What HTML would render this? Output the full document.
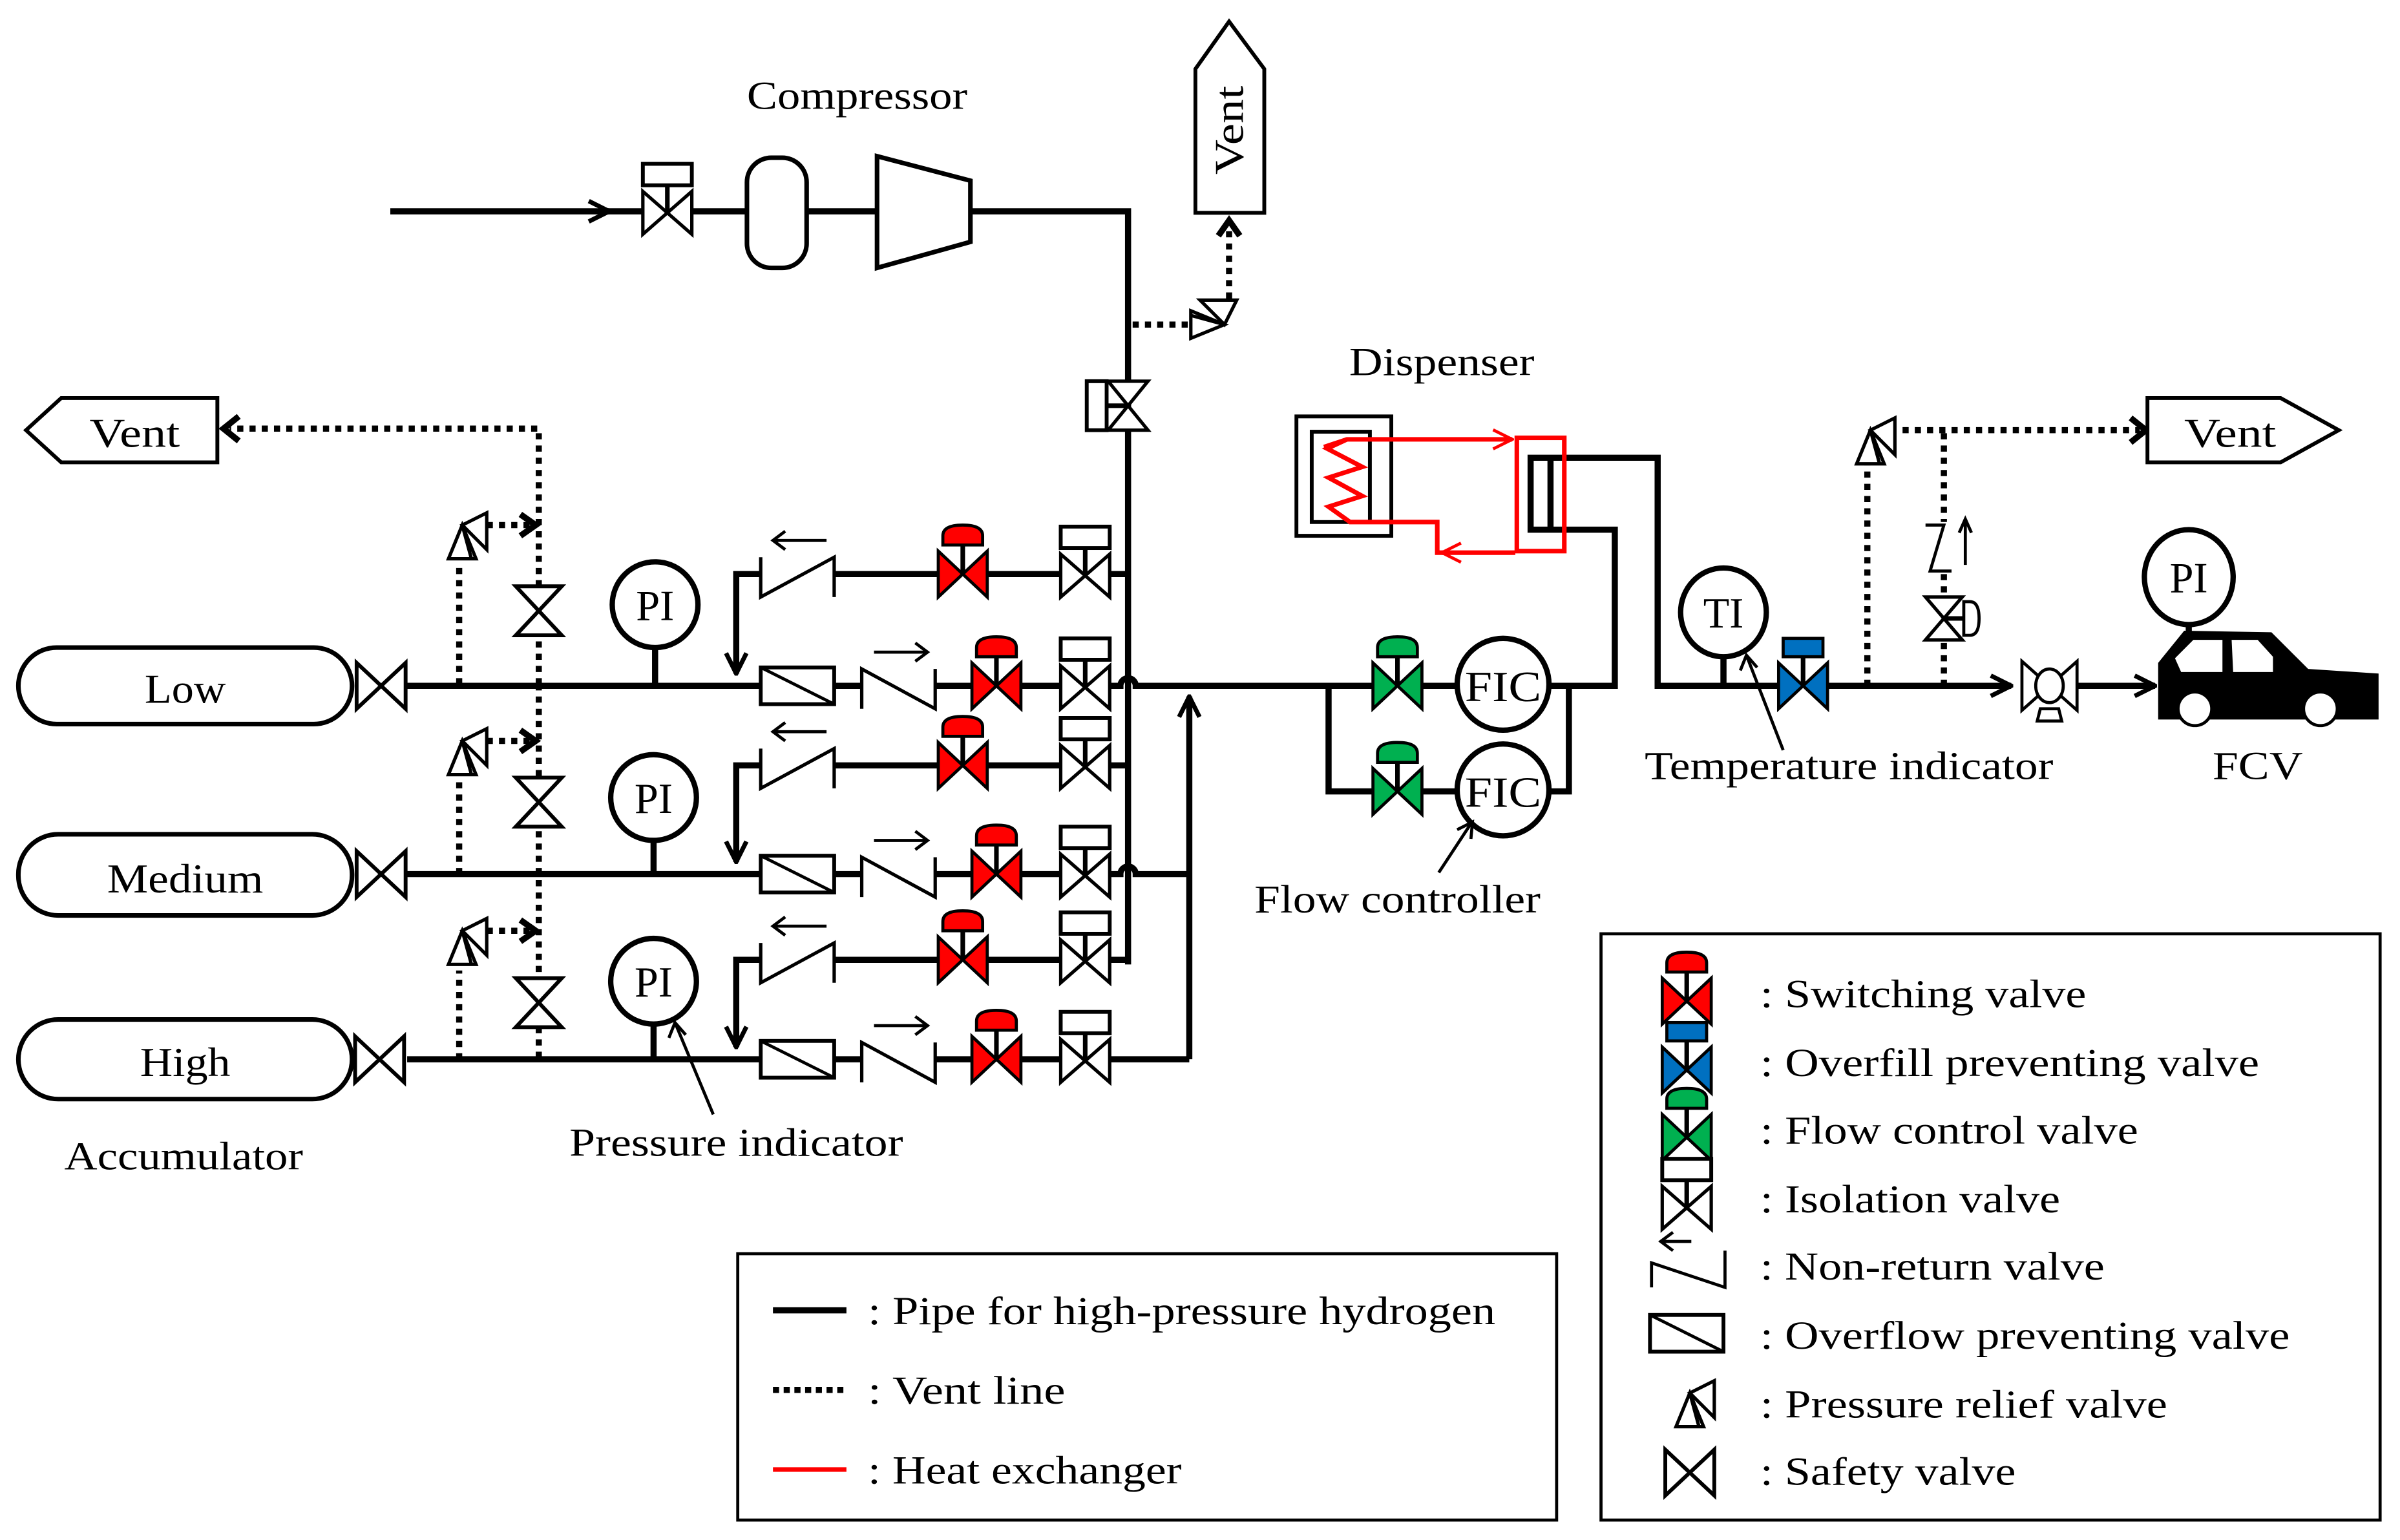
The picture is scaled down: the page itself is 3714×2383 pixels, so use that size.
<!DOCTYPE html>
<html><head><meta charset="utf-8"><style>
html,body{margin:0;padding:0;background:#fff;}
svg{display:block;}
text{font-family:"Liberation Serif",serif;fill:#000;}
</style></head><body>
<svg width="3714" height="2383" viewBox="0 0 1568 1006" xmlns="http://www.w3.org/2000/svg">
<defs>
<marker id="ah" viewBox="0 0 12 12" refX="11" refY="6" markerWidth="4" markerHeight="4" orient="auto" markerUnits="strokeWidth"><path d="M1,1 L11,6 L1,11" fill="none" stroke="#000" stroke-width="2.2"/></marker>
<marker id="ahr" viewBox="0 0 12 12" refX="11" refY="6" markerWidth="5" markerHeight="5" orient="auto" markerUnits="strokeWidth"><path d="M1,1 L11,6 L1,11" fill="none" stroke="#f00" stroke-width="1.6"/></marker>
<g id="bow"><path d="M-16,-15 L16,15 L16,-15 L-16,15 Z" fill="#fff" stroke="#000" stroke-width="2.5"/></g>
<g id="sw"><path d="M-16,-15 L16,15 L16,-15 L-16,15 Z" fill="#f00" stroke="#000" stroke-width="2"/><line x1="0" y1="0" x2="0" y2="-20" stroke="#000" stroke-width="3"/><path d="M-13,-19 L13,-19 L13,-25 Q13,-32 0,-32 Q-13,-32 -13,-25 Z" fill="#f00" stroke="#000" stroke-width="2"/></g>
<g id="fc"><path d="M-16,-15 L16,15 L16,-15 L-16,15 Z" fill="#00b050" stroke="#000" stroke-width="2"/><line x1="0" y1="0" x2="0" y2="-20" stroke="#000" stroke-width="3"/><path d="M-13,-19 L13,-19 L13,-25 Q13,-32 0,-32 Q-13,-32 -13,-25 Z" fill="#00b050" stroke="#000" stroke-width="2"/></g>
<g id="ov"><path d="M-16,-15 L16,15 L16,-15 L-16,15 Z" fill="#0070c0" stroke="#000" stroke-width="2"/><line x1="0" y1="0" x2="0" y2="-20" stroke="#000" stroke-width="3"/><rect x="-13" y="-31" width="26" height="12" fill="#0070c0" stroke="#000" stroke-width="2"/></g>
<g id="iso"><path d="M-16,-13 L16,15 L16,-13 L-16,15 Z" fill="#fff" stroke="#000" stroke-width="2.2"/><line x1="0" y1="0" x2="0" y2="-16" stroke="#000" stroke-width="3"/><rect x="-16" y="-31" width="32" height="14" fill="#fff" stroke="#000" stroke-width="2.5"/></g>
<g id="nr"><path d="M-24,15 L-24,-11 L24,15 L24,-11" fill="none" stroke="#000" stroke-width="2.2"/></g>
<g id="ofp"><rect x="-24" y="-12" width="48" height="24" fill="#fff" stroke="#000" stroke-width="2.5"/><line x1="-24" y1="-12" x2="24" y2="12" stroke="#000" stroke-width="2"/></g>
<g id="prv"><path d="M0,0 L-9,22 L9,22 Z M0,0 L16,-8 L16,16 Z M0,0 L6,22" fill="#fff" stroke="#000" stroke-width="2.2"/></g>
</defs>

<g stroke="#000" stroke-width="4" fill="none">
<line x1="255" y1="138" x2="420" y2="138"/>
<line x1="392" y1="138" x2="398" y2="138" marker-end="url(#ah)"/>
<line x1="452" y1="138" x2="488" y2="138"/>
<line x1="527" y1="138" x2="573" y2="138"/>
<polyline points="634,138 737,138 737,630"/>
<line x1="266" y1="448" x2="497" y2="448"/>
<line x1="266" y1="571" x2="497" y2="571"/>
<line x1="266" y1="692" x2="497" y2="692"/>
<line x1="545" y1="448" x2="563" y2="448"/><line x1="545" y1="571" x2="563" y2="571"/><line x1="545" y1="692" x2="563" y2="692"/>
<line x1="611" y1="448" x2="635" y2="448"/><line x1="611" y1="571" x2="635" y2="571"/><line x1="611" y1="692" x2="635" y2="692"/>
<line x1="667" y1="448" x2="693" y2="448"/><line x1="667" y1="571" x2="693" y2="571"/><line x1="667" y1="692" x2="693" y2="692"/>
<path d="M725,448 L732,448 A5,5 0 0 1 742,448 L868,448"/>
<path d="M725,571 L732,571 A5,5 0 0 1 742,571 L777,571"/>
<line x1="725" y1="692" x2="777" y2="692"/>
<line x1="777" y1="692" x2="777" y2="455" marker-end="url(#ah)"/>
<line x1="725" y1="375" x2="737" y2="375"/><line x1="725" y1="500" x2="737" y2="500"/><line x1="725" y1="627" x2="737" y2="627"/>
<line x1="645" y1="375" x2="693" y2="375"/><line x1="645" y1="500" x2="693" y2="500"/><line x1="645" y1="627" x2="693" y2="627"/>
<line x1="545" y1="375" x2="613" y2="375"/><line x1="545" y1="500" x2="613" y2="500"/><line x1="545" y1="627" x2="613" y2="627"/>
<polyline points="497,375 481,375 481,440" marker-end="url(#ah)"/>
<polyline points="497,500 481,500 481,563" marker-end="url(#ah)"/>
<polyline points="497,627 481,627 481,684" marker-end="url(#ah)"/>
<line x1="428" y1="423" x2="428" y2="448"/><line x1="427" y1="549" x2="427" y2="571"/><line x1="427" y1="669" x2="427" y2="692"/>
<line x1="868" y1="448" x2="897" y2="448"/>
<polyline points="868,446 868,517 897,517"/>
<line x1="929" y1="448" x2="952" y2="448"/><line x1="929" y1="517" x2="952" y2="517"/>
<polyline points="1012,448 1055,448 1055,346 1000,346 1000,299 1083,299 1083,448 1162,448"/>
<line x1="1013" y1="299" x2="1013" y2="346"/>
<polyline points="1012,517 1025,517 1025,448"/>
<line x1="1194" y1="448" x2="1314" y2="448" marker-end="url(#ah)"/>
<line x1="1357" y1="448" x2="1408" y2="448" marker-end="url(#ah)"/>
<line x1="1126" y1="428" x2="1126" y2="448"/>
<line x1="1430" y1="407" x2="1430" y2="420"/>
</g>

<g stroke="#000" stroke-width="4" fill="none" stroke-dasharray="4,4">
<polyline points="352,447 352,280 150,280"/>
<line x1="352" y1="447" x2="352" y2="693"/>
<line x1="300" y1="447" x2="300" y2="367"/><line x1="300" y1="571" x2="300" y2="508"/><line x1="300" y1="692" x2="300" y2="634"/>
<line x1="318" y1="343" x2="346" y2="343"/><line x1="318" y1="484" x2="346" y2="484"/><line x1="318" y1="608" x2="346" y2="608"/>
<line x1="740" y1="212" x2="780" y2="212"/>
<line x1="803" y1="195" x2="803" y2="146"/>
<line x1="1220" y1="448" x2="1220" y2="302"/>
<line x1="1243" y1="281" x2="1398" y2="281"/>
<line x1="1270" y1="283" x2="1270" y2="341"/>
<line x1="1270" y1="375" x2="1270" y2="390"/>
<line x1="1270" y1="420" x2="1270" y2="448"/>
</g>
<g stroke="#000" stroke-width="4" fill="none">
<path d="M156,272 L146,280 L156,288"/>
<path d="M340,336 L350,343 L340,350"/><path d="M340,477 L350,484 L340,491"/><path d="M340,601 L350,608 L340,615"/>
<path d="M796,154 L803,144 L810,154"/>
<path d="M1392,273 L1402,281 L1392,289"/>
</g>

<use href="#iso" x="436" y="138"/>
<rect x="488" y="103" width="39" height="72" rx="16" fill="#fff" stroke="#000" stroke-width="3"/>
<polygon points="573,102 634,118 634,158 573,175" fill="#fff" stroke="#000" stroke-width="3"/>
<text x="560" y="71" font-size="26" text-anchor="middle" textLength="144" lengthAdjust="spacingAndGlyphs">Compressor</text>
<polygon points="781,139 781,45 803,14 826,45 826,139" fill="#fff" stroke="#000" stroke-width="2.5"/>
<text x="0" y="0" font-size="27" text-anchor="middle" textLength="58" lengthAdjust="spacingAndGlyphs" transform="translate(812,85) rotate(-90)">Vent</text>
<use href="#prv" transform="translate(800,212) rotate(90) scale(-1,1)"/>
<g transform="translate(737,265) rotate(90)"><path d="M-16,-13 L16,13 L16,-13 L-16,13 Z" fill="#fff" stroke="#000" stroke-width="2.2"/><line x1="0" y1="0" x2="0" y2="14" stroke="#000" stroke-width="3"/><rect x="-16" y="14" width="32" height="13" fill="#fff" stroke="#000" stroke-width="2.5"/></g>

<polygon points="17,281 40,260 142,260 142,302 40,302" fill="#fff" stroke="#000" stroke-width="2.5"/>
<text x="88" y="292" font-size="27" text-anchor="middle" textLength="59" lengthAdjust="spacingAndGlyphs">Vent</text>
<g transform="translate(352,399) rotate(90)"><use href="#bow"/></g>
<g transform="translate(352,524) rotate(90)"><use href="#bow"/></g>
<g transform="translate(352,655) rotate(90)"><use href="#bow"/></g>
<use href="#prv" x="302" y="343"/><use href="#prv" x="302" y="484"/><use href="#prv" x="302" y="608"/>

<g fill="#fff" stroke="#000" stroke-width="3">
<rect x="12" y="423" width="218" height="50" rx="25"/>
<rect x="12" y="545" width="218" height="53" rx="26"/>
<rect x="12" y="666" width="218" height="52" rx="26"/>
</g>
<text x="121" y="459" font-size="27" text-anchor="middle" textLength="53" lengthAdjust="spacingAndGlyphs">Low</text>
<text x="121" y="583" font-size="27" text-anchor="middle" textLength="102" lengthAdjust="spacingAndGlyphs">Medium</text>
<text x="121" y="703" font-size="27" text-anchor="middle" textLength="59" lengthAdjust="spacingAndGlyphs">High</text>
<text x="120" y="764" font-size="26" text-anchor="middle" textLength="156" lengthAdjust="spacingAndGlyphs">Accumulator</text>
<use href="#bow" x="249" y="448"/><use href="#bow" x="249" y="571"/><use href="#bow" x="248" y="692"/>

<g fill="#fff" stroke="#000" stroke-width="3.5">
<ellipse cx="428" cy="395" rx="28" ry="28"/><ellipse cx="427" cy="521" rx="28" ry="28"/><ellipse cx="427" cy="641" rx="28" ry="28"/>
</g>
<text x="428" y="405" font-size="28" text-anchor="middle">PI</text>
<text x="427" y="531" font-size="28" text-anchor="middle">PI</text>
<text x="427" y="651" font-size="28" text-anchor="middle">PI</text>
<line x1="466" y1="728" x2="441" y2="668" stroke="#000" stroke-width="2"/>
<path d="M437,678 L441,668 L448,676" fill="none" stroke="#000" stroke-width="2"/>
<text x="481" y="755" font-size="26" text-anchor="middle" textLength="218" lengthAdjust="spacingAndGlyphs">Pressure indicator</text>

<g id="frow">
<use href="#ofp" x="521" y="448"/><use href="#nr" x="587" y="448"/>
<line x1="571" y1="426" x2="606" y2="426" stroke="#000" stroke-width="2"/><path d="M598,420 L606,426 L598,432" fill="none" stroke="#000" stroke-width="2"/>
<use href="#sw" x="651" y="448"/><use href="#iso" x="709" y="448"/>
</g>
<use href="#frow" y="123"/><use href="#frow" y="244"/>
<g id="rrow">
<g transform="translate(521,375) scale(-1,1)"><use href="#nr"/></g>
<line x1="505" y1="353" x2="540" y2="353" stroke="#000" stroke-width="2"/><path d="M513,347 L505,353 L513,359" fill="none" stroke="#000" stroke-width="2"/>
<use href="#sw" x="629" y="375"/><use href="#iso" x="709" y="375"/>
</g>
<use href="#rrow" y="125"/><use href="#rrow" y="252"/>

<use href="#fc" x="913" y="448"/><use href="#fc" x="913" y="517"/>
<g fill="#fff" stroke="#000" stroke-width="3.5"><ellipse cx="982" cy="447" rx="30" ry="30"/><ellipse cx="982" cy="516" rx="30" ry="30"/></g>
<text x="982" y="458" font-size="28" text-anchor="middle" textLength="50" lengthAdjust="spacingAndGlyphs">FIC</text>
<text x="982" y="527" font-size="28" text-anchor="middle" textLength="50" lengthAdjust="spacingAndGlyphs">FIC</text>
<line x1="940" y1="570" x2="961" y2="538" stroke="#000" stroke-width="2"/>
<path d="M952,542 L962,537 L961,548" fill="none" stroke="#000" stroke-width="2"/>
<text x="913" y="596" font-size="26" text-anchor="middle" textLength="187" lengthAdjust="spacingAndGlyphs">Flow controller</text>

<text x="942" y="245" font-size="26" text-anchor="middle" textLength="121" lengthAdjust="spacingAndGlyphs">Dispenser</text>
<rect x="847" y="272" width="62" height="78" fill="none" stroke="#000" stroke-width="2.5"/>
<rect x="857" y="282" width="38" height="59" fill="none" stroke="#000" stroke-width="2.5"/>
<polyline points="865,292 880,287 988,287" fill="none" stroke="#f00" stroke-width="3" marker-end="url(#ahr)"/>
<polyline points="880,287 867,293 890,305 868,312 890,324 868,331 882,341 939,341 939,361 944,361" fill="none" stroke="#f00" stroke-width="3"/>
<line x1="990" y1="361" x2="942" y2="361" stroke="#f00" stroke-width="3" marker-end="url(#ahr)"/>
<rect x="991" y="286" width="31" height="74" fill="none" stroke="#f00" stroke-width="3"/>

<ellipse cx="1126" cy="400" rx="28" ry="29" fill="#fff" stroke="#000" stroke-width="3.5"/>
<text x="1126" y="410" font-size="28" text-anchor="middle">TI</text>
<use href="#ov" x="1178" y="448"/>
<line x1="1165" y1="490" x2="1141" y2="428" stroke="#000" stroke-width="2"/>
<path d="M1137,438 L1141,428 L1148,436" fill="none" stroke="#000" stroke-width="2"/>
<text x="1208" y="509" font-size="26" text-anchor="middle" textLength="267" lengthAdjust="spacingAndGlyphs">Temperature indicator</text>
<use href="#prv" x="1222" y="281"/>
<polygon points="1403,260 1490,260 1528,281 1490,302 1403,302" fill="#fff" stroke="#000" stroke-width="2.5"/>
<text x="1457" y="292" font-size="27" text-anchor="middle" textLength="60" lengthAdjust="spacingAndGlyphs">Vent</text>
<polyline points="1258,343 1270,343 1261,373 1275,373" fill="none" stroke="#000" stroke-width="2"/>
<line x1="1284" y1="369" x2="1284" y2="339" stroke="#000" stroke-width="2"/><path d="M1280,348 L1284,339 L1288,348" fill="none" stroke="#000" stroke-width="2"/>
<g transform="translate(1270,404) rotate(90)"><path d="M-14,-12 L14,12 L14,-12 L-14,12 Z" fill="#fff" stroke="#000" stroke-width="2.2"/></g>
<line x1="1270" y1="404" x2="1283" y2="404" stroke="#000" stroke-width="3"/>
<path d="M1283,393 L1287,393 Q1293,393 1293,404 Q1293,415 1287,415 L1283,415 Z" fill="#fff" stroke="#000" stroke-width="2"/>
<path d="M1321,432 L1321,464 L1339,448 Z M1357,432 L1357,464 L1339,448 Z" fill="#fff" stroke="#000" stroke-width="2"/>
<ellipse cx="1339" cy="448" rx="9" ry="11" fill="#fff" stroke="#000" stroke-width="2"/>
<path d="M1333,463 L1345,463 L1347,471 L1331,471 Z" fill="#fff" stroke="#000" stroke-width="2"/>
<path d="M1410,470 L1410,433 L1427,412 L1484,413 L1508,437 L1554,440 L1554,470 Z" fill="#000"/>
<path d="M1425,439 L1421,430 L1433,418 L1452,418 L1452,439 Z M1458,418 L1475,418 L1485,429 L1485,439 L1459,439 Z" fill="#fff"/>
<ellipse cx="1434" cy="463" rx="11" ry="11" fill="#fff" stroke="#000" stroke-width="2"/>
<ellipse cx="1516" cy="463" rx="11" ry="11" fill="#fff" stroke="#000" stroke-width="2"/>
<ellipse cx="1430" cy="377" rx="29" ry="31" fill="#fff" stroke="#000" stroke-width="3.5"/>
<text x="1430" y="387" font-size="28" text-anchor="middle">PI</text>
<text x="1475" y="509" font-size="26" text-anchor="middle" textLength="59" lengthAdjust="spacingAndGlyphs">FCV</text>

<rect x="482" y="819" width="535" height="174" fill="none" stroke="#000" stroke-width="2"/>
<line x1="505" y1="856" x2="553" y2="856" stroke="#000" stroke-width="4"/>
<line x1="505" y1="908" x2="553" y2="908" stroke="#000" stroke-width="4" stroke-dasharray="4,3"/>
<line x1="505" y1="960" x2="553" y2="960" stroke="#f00" stroke-width="3"/>
<text x="567" y="865" font-size="26" textLength="410" lengthAdjust="spacingAndGlyphs">: Pipe for high-pressure  hydrogen</text>
<text x="567" y="917" font-size="26" textLength="129" lengthAdjust="spacingAndGlyphs">: Vent line</text>
<text x="567" y="969" font-size="26" textLength="205" lengthAdjust="spacingAndGlyphs">: Heat exchanger</text>

<rect x="1046" y="610" width="509" height="383" fill="none" stroke="#000" stroke-width="2"/>
<use href="#sw" x="1102" y="654"/>
<use href="#ov" x="1102" y="699"/>
<use href="#fc" x="1102" y="743"/>
<use href="#iso" x="1102" y="788"/>
<path d="M1079,841 L1079,825 L1127,841 L1127,817" fill="none" stroke="#000" stroke-width="2"/>
<line x1="1086" y1="811" x2="1105" y2="811" stroke="#000" stroke-width="2"/><path d="M1093,805 L1085,811 L1093,817" fill="none" stroke="#000" stroke-width="2"/>
<use href="#ofp" x="1102" y="871"/>
<use href="#prv" x="1104" y="910"/>
<use href="#bow" x="1104" y="962"/>
<g font-size="26">
<text x="1150" y="658" textLength="213" lengthAdjust="spacingAndGlyphs">: Switching  valve</text>
<text x="1150" y="703" textLength="326" lengthAdjust="spacingAndGlyphs">: Overfill  preventing  valve</text>
<text x="1150" y="747" textLength="247" lengthAdjust="spacingAndGlyphs">: Flow  control  valve</text>
<text x="1150" y="792" textLength="196" lengthAdjust="spacingAndGlyphs">: Isolation  valve</text>
<text x="1150" y="836" textLength="225" lengthAdjust="spacingAndGlyphs">: Non-return  valve</text>
<text x="1150" y="881" textLength="346" lengthAdjust="spacingAndGlyphs">: Overflow  preventing  valve</text>
<text x="1150" y="926" textLength="266" lengthAdjust="spacingAndGlyphs">: Pressure  relief valve</text>
<text x="1150" y="970" textLength="167" lengthAdjust="spacingAndGlyphs">: Safety  valve</text>
</g>
</svg>
</body></html>
